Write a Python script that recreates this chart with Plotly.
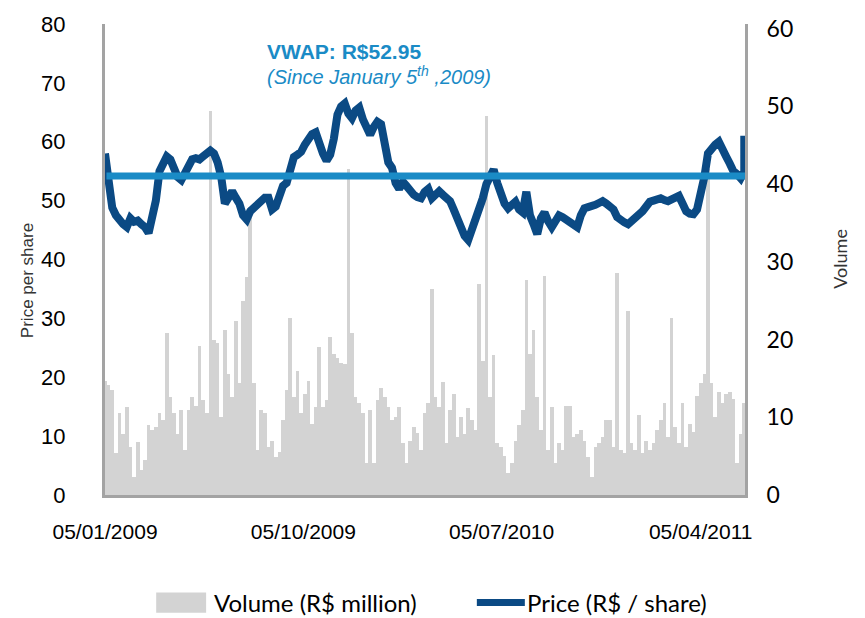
import pandas as pd
import plotly.graph_objects as go

# ---------------- data ----------------
START = "2009-01-05"
STEP_DAYS = 5

volume_rs_million = [
    14.7, 14.2, 13.5, 5.4, 10.5, 7.9, 11.3, 6.2, 2.3, 6.8,
    3.2, 4.5, 9.0, 8.3, 8.7, 10.5, 9.6, 20.9, 12.6, 10.5,
    7.9, 10.9, 5.8, 10.9, 12.6, 11.5, 19.2, 12.2, 10.5, 49.4,
    20.0, 19.5, 10.0, 21.2, 15.6, 12.6, 22.4, 14.4, 25.0, 28.0,
    37.0, 14.4, 5.8, 10.9, 10.5, 6.2, 7.0, 4.9, 5.5, 9.6,
    13.5, 22.8, 12.6, 16.0, 10.5, 13.0, 14.7, 9.2, 11.3, 19.0,
    11.3, 12.2, 20.3, 18.2, 17.6, 17.0, 16.9, 42.0, 20.8, 12.6,
    11.8, 10.5, 4.1, 10.9, 4.1, 12.2, 13.8, 12.6, 11.3, 9.6,
    10.0, 11.3, 6.7, 4.1, 7.0, 8.7, 8.0, 5.8, 10.5, 11.8,
    26.5, 12.6, 11.3, 14.5, 6.7, 10.9, 13.0, 7.4, 10.0, 7.9,
    11.2, 9.6, 8.3, 27.2, 17.3, 48.7, 12.6, 18.0, 6.7, 6.2,
    5.0, 2.8, 4.1, 7.0, 9.0, 10.9, 27.6, 18.2, 21.2, 12.6,
    8.3, 28.2, 5.8, 11.3, 4.1, 6.7, 5.8, 11.5, 11.5, 7.4,
    7.9, 8.3, 7.0, 4.9, 2.3, 6.2, 6.7, 7.5, 9.6, 9.6,
    6.2, 28.5, 5.8, 5.4, 23.7, 6.7, 5.8, 10.3, 5.4, 7.0,
    5.8, 6.7, 8.3, 9.6, 11.8, 7.4, 22.8, 8.7, 6.7, 11.8,
    6.2, 9.2, 8.1, 12.8, 14.4, 15.6, 42.0, 14.4, 10.0, 13.2,
    11.8, 13.0, 13.2, 12.4, 4.1, 7.9, 11.8,
]

price_rs_share = [
    58.0, 52.0, 48.8, 47.5, 46.6, 46.0, 45.5, 47.0, 46.4, 46.6,
    46.0, 45.5, 44.5, 47.0, 50.0, 55.0, 56.4, 57.5, 57.0, 55.5,
    54.0, 53.5, 54.8, 56.0, 57.0, 57.2, 57.0, 57.5, 58.0, 58.5,
    58.0, 56.5, 54.0, 49.5, 50.5, 51.6, 50.5, 49.5, 47.5, 46.8,
    48.2, 48.8, 49.5, 50.0, 50.5, 50.5, 48.5, 49.0, 51.0, 52.5,
    53.0, 55.5, 57.4, 57.8, 58.3, 59.5, 60.6, 61.3, 61.6, 59.5,
    58.0, 56.8, 57.8, 60.5, 64.6, 66.0, 66.5, 64.8, 64.0, 65.3,
    65.8, 63.8, 62.5, 61.2, 62.5, 63.4, 63.0, 60.0, 56.5, 55.6,
    53.0, 52.0, 53.2, 52.5, 51.5, 51.0, 50.6, 50.4, 51.5, 52.0,
    50.4, 51.0, 51.6, 51.0, 50.2, 49.9, 48.5, 47.0, 45.3, 44.0,
    43.3, 45.0, 47.0, 48.8, 50.4, 52.8, 54.5, 55.3, 53.0, 51.0,
    49.5, 48.7, 49.3, 49.8, 48.5, 48.0, 51.5, 47.5, 46.0, 44.3,
    47.0, 48.0, 46.5, 45.5, 46.5, 47.5, 47.2, 46.8, 46.5, 45.8,
    45.5, 47.5, 48.7, 48.9, 49.0, 49.3, 49.6, 49.9, 49.5, 49.0,
    48.5, 47.2, 46.6, 46.3, 46.0, 46.5, 47.0, 47.5, 48.2, 49.0,
    49.8, 50.0, 50.2, 50.4, 50.1, 49.9, 50.2, 50.6, 50.8, 49.5,
    48.2, 47.8, 47.7, 48.5, 51.0, 54.0, 58.0, 59.0, 59.5, 60.0,
    59.0, 57.5, 56.3, 55.0, 54.5, 53.8, 55.0,
]
last_date = "2011-06-04"
last_price = 61.0

vwap_line_dates = ["2009-01-07", "2011-06-05"]
vwap_line_level = [54.2, 54.2]

x_tick_dates = ["2009-01-05", "2009-10-05", "2010-07-05", "2011-04-05"]
x_tick_text = ["05/01/2009", "05/10/2009", "05/07/2010", "05/04/2011"]
price_ticks = [0, 10, 20, 30, 40, 50, 60, 70, 80]
volume_ticks = [0, 10, 20, 30, 40, 50, 60]

vwap_title = "VWAP: R$52.95"
vwap_sub = "(Since January 5<sup>th</sup> ,2009)"

# ---------------- build ----------------
grid = pd.date_range(START, periods=len(price_rs_share), freq=f"{STEP_DAYS}D")
vol_dates = grid[: len(volume_rs_million)]
price_dates = list(grid) + [pd.Timestamp(last_date)]
prices = price_rs_share + [last_price]

DARK = "#0b4a84"
LIGHT = "#1a8bc6"
GRAY_BAR = "#d3d3d3"
AXIS = "#a3a3a3"

fig = go.Figure()
fig.add_trace(go.Bar(
    x=vol_dates, y=volume_rs_million, yaxis="y",
    marker=dict(color=GRAY_BAR, line=dict(width=0)),
    name="Volume (R$ million)", showlegend=False,
))
fig.add_trace(go.Scatter(
    x=price_dates, y=prices, yaxis="y2", mode="lines",
    line=dict(color=DARK, width=8),
    name="Price (R$ / share)", showlegend=False,
))
fig.add_trace(go.Scatter(
    x=vwap_line_dates, y=vwap_line_level, yaxis="y2", mode="lines",
    line=dict(color=LIGHT, width=7), showlegend=False, name="VWAP",
))

fig.update_layout(
    width=865, height=618,
    margin=dict(l=105, r=120, t=22, b=123),
    paper_bgcolor="white", plot_bgcolor="white",
    bargap=0,
    font=dict(family="Liberation Sans, Arial", color="black"),
    xaxis=dict(
        type="date", range=["2009-01-05", "2011-06-05"],
        tickvals=x_tick_dates, ticktext=x_tick_text,
        tickfont=dict(size=21, family="Liberation Sans, Arial"),
        showgrid=False, zeroline=False, ticks="",
        showline=True, linecolor=AXIS, linewidth=3,
        ticklabelstandoff=16,
    ),
    yaxis=dict(
        side="right", range=[0, 60.6], tickvals=volume_ticks,
        tickfont=dict(size=23, family="Lato, Open Sans"),
        showgrid=False, zeroline=False, ticks="",
        showline=True, linecolor=AXIS, linewidth=3,
        ticklabelstandoff=14,
    ),
    yaxis2=dict(
        side="left", overlaying="y", range=[0, 80], tickvals=price_ticks,
        tickfont=dict(size=22, family="Liberation Sans, Arial"),
        showgrid=False, zeroline=False, ticks="",
        showline=True, linecolor=AXIS, linewidth=3,
        ticklabelstandoff=32,
    ),
)

ann = [
    dict(text=vwap_title, x=0.25, y=0.941, xref="paper", yref="paper",
         xanchor="left", yanchor="middle", showarrow=False,
         font=dict(size=21, color=LIGHT, family="Liberation Sans, Arial", weight="bold")),
    dict(text=vwap_sub, x=0.25, y=0.89, xref="paper", yref="paper",
         xanchor="left", yanchor="middle", showarrow=False,
         font=dict(size=20, color=LIGHT, family="Liberation Sans, Arial", style="italic")),
    dict(text="Price per share", x=-0.12, y=0.4545, xref="paper", yref="paper",
         xanchor="center", yanchor="middle",
         textangle=-90, showarrow=False,
         font=dict(size=17, color="#333333", family="Liberation Sans, Arial")),
    dict(text="Volume", x=1.148, y=0.501, xref="paper", yref="paper",
         xanchor="center", yanchor="middle",
         textangle=-90, showarrow=False,
         font=dict(size=18, color="#333333", family="Lato, Open Sans")),
    dict(text="Volume (R$ million)", x=0.167, y=-0.228, xref="paper", yref="paper",
         xanchor="left", yanchor="middle", showarrow=False,
         font=dict(size=24, color="black", family="Lato, Open Sans")),
    dict(text="Price (R$ / share)", x=0.656, y=-0.228, xref="paper", yref="paper",
         xanchor="left", yanchor="middle", showarrow=False,
         font=dict(size=24, color="black", family="Lato, Open Sans")),
]
fig.update_layout(annotations=ann)

fig.update_layout(shapes=[
    dict(type="rect", xref="paper", yref="paper", x0=0.08, x1=0.158,
         y0=-0.250, y1=-0.207, fillcolor=GRAY_BAR, line=dict(width=0)),
    dict(type="line", xref="paper", yref="paper", x0=0.581, x1=0.656,
         y0=-0.228, y1=-0.228, line=dict(color=DARK, width=7)),
])

fig.write_html(
    "out.html",
    config={"displayModeBar": False},
    post_script="document.body.style.margin='0';document.body.style.padding='0';",
)
